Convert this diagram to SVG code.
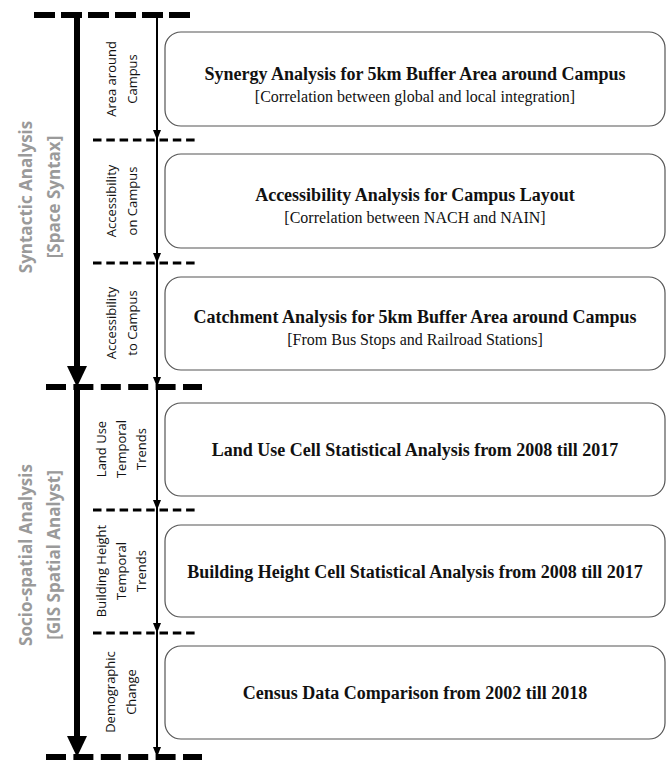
<svg xmlns="http://www.w3.org/2000/svg" width="670" height="760" viewBox="0 0 670 760">
<style>
.box{fill:#fff;stroke:#555;stroke-width:1.2}
.t{font-family:"Liberation Serif","Times New Roman",serif;font-size:18px;font-weight:bold;fill:#111;text-anchor:middle}
.s{font-family:"Liberation Serif","Times New Roman",serif;font-size:16px;fill:#111;text-anchor:middle}
.lab{font-family:"Open Sans","Liberation Sans",sans-serif;font-size:13px;fill:#111;text-anchor:middle}
.big{font-family:"Open Sans","Liberation Sans",sans-serif;font-size:17px;font-weight:bold;fill:#9a9a9a;text-anchor:middle}
.thickdash{stroke:#000;stroke-width:6;fill:none}
.thindash{stroke:#000;stroke-width:3;stroke-dasharray:8.5 4.8;fill:none}
.thin{stroke:#000;stroke-width:2;fill:none;marker-end:url(#ah)}
.thick{stroke:#000;stroke-width:6;fill:none}
</style>
<defs>
<marker id="ah" markerWidth="10" markerHeight="8" refX="10" refY="4" orient="auto" markerUnits="userSpaceOnUse" viewBox="0 0 10 8">
<path d="M0,0 L10,4 L0,8 Z" fill="#000"/>
</marker>
</defs>

<g id="connectors">
<line class="thickdash" x1="34" y1="15" x2="190" y2="15" stroke-dasharray="21 6"/>
<line class="thickdash" x1="46" y1="387" x2="202" y2="387" stroke-dasharray="20 7.4"/>
<line class="thickdash" x1="46" y1="757" x2="202" y2="757" stroke-dasharray="20 7.4"/>
<line class="thindash" x1="93" y1="140" x2="199" y2="140"/>
<line class="thindash" x1="93" y1="263" x2="199" y2="263"/>
<line class="thindash" x1="93" y1="510" x2="199" y2="510"/>
<line class="thindash" x1="93" y1="633" x2="199" y2="633"/>

<line class="thick" x1="77" y1="12" x2="77" y2="370"/>
<polygon points="67,366 87,366 77,387" fill="#000"/>
<line class="thick" x1="77" y1="387" x2="77" y2="740"/>
<polygon points="67,736 87,736 77,757" fill="#000"/>

<line class="thin" x1="157" y1="15" x2="157" y2="140"/>
<line class="thin" x1="157" y1="140" x2="157" y2="263"/>
<line class="thin" x1="157" y1="263" x2="157" y2="387"/>
<line class="thin" x1="157" y1="387" x2="157" y2="510"/>
<line class="thin" x1="157" y1="510" x2="157" y2="633"/>
<line class="thin" x1="157" y1="633" x2="157" y2="757"/>
</g>

<g id="group-syntactic">
<text class="big" transform="translate(32,197) rotate(-90)">Syntactic Analysis</text>
<text class="big" transform="translate(60,197) rotate(-90)">[Space Syntax]</text>
</g>
<g id="group-sociospatial">
<text class="big" transform="translate(32,555) rotate(-90)">Socio-spatial Analysis</text>
<text class="big" transform="translate(60,555) rotate(-90)">[GIS Spatial Analyst]</text>
</g>

<g id="label-area">
<text class="lab" transform="translate(116,79) rotate(-90)">Area around</text>
<text class="lab" transform="translate(137,79) rotate(-90)">Campus</text>
</g>
<g id="label-acc-on">
<text class="lab" transform="translate(116,201) rotate(-90)">Accessibility</text>
<text class="lab" transform="translate(137,201) rotate(-90)">on Campus</text>
</g>
<g id="label-acc-to">
<text class="lab" transform="translate(116,323) rotate(-90)">Accessibility</text>
<text class="lab" transform="translate(137,323) rotate(-90)">to Campus</text>
</g>
<g id="label-landuse">
<text class="lab" transform="translate(106,449) rotate(-90)">Land Use</text>
<text class="lab" transform="translate(126,449) rotate(-90)">Temporal</text>
<text class="lab" transform="translate(146,449) rotate(-90)">Trends</text>
</g>
<g id="label-building">
<text class="lab" transform="translate(106,571) rotate(-90)">Building Height</text>
<text class="lab" transform="translate(126,571) rotate(-90)">Temporal</text>
<text class="lab" transform="translate(146,571) rotate(-90)">Trends</text>
</g>
<g id="label-demographic">
<text class="lab" transform="translate(115,692) rotate(-90)">Demographic</text>
<text class="lab" transform="translate(136,692) rotate(-90)">Change</text>
</g>

<g id="box-synergy">
<rect class="box" x="165" y="32" width="500" height="94" rx="16"/>
<text class="t" x="415" y="80">Synergy Analysis for 5km Buffer Area around Campus</text>
<text class="s" x="415" y="102">[Correlation between global and local integration]</text>
</g>
<g id="box-accessibility">
<rect class="box" x="165" y="154" width="500" height="94" rx="16"/>
<text class="t" x="415" y="201">Accessibility Analysis for Campus Layout</text>
<text class="s" x="415" y="223">[Correlation between NACH and NAIN]</text>
</g>
<g id="box-catchment">
<rect class="box" x="165" y="277" width="500" height="93" rx="16"/>
<text class="t" x="415" y="323">Catchment Analysis for 5km Buffer Area around Campus</text>
<text class="s" x="415" y="345">[From Bus Stops and Railroad Stations]</text>
</g>
<g id="box-landuse">
<rect class="box" x="165" y="403" width="500" height="93" rx="16"/>
<text class="t" x="415" y="456">Land Use Cell Statistical Analysis from 2008 till 2017</text>
</g>
<g id="box-building">
<rect class="box" x="165" y="525" width="500" height="92" rx="16"/>
<text class="t" x="415" y="578">Building Height Cell Statistical Analysis from 2008 till 2017</text>
</g>
<g id="box-census">
<rect class="box" x="165" y="646" width="500" height="93" rx="16"/>
<text class="t" x="415" y="699">Census Data Comparison from 2002 till 2018</text>
</g>
</svg>
